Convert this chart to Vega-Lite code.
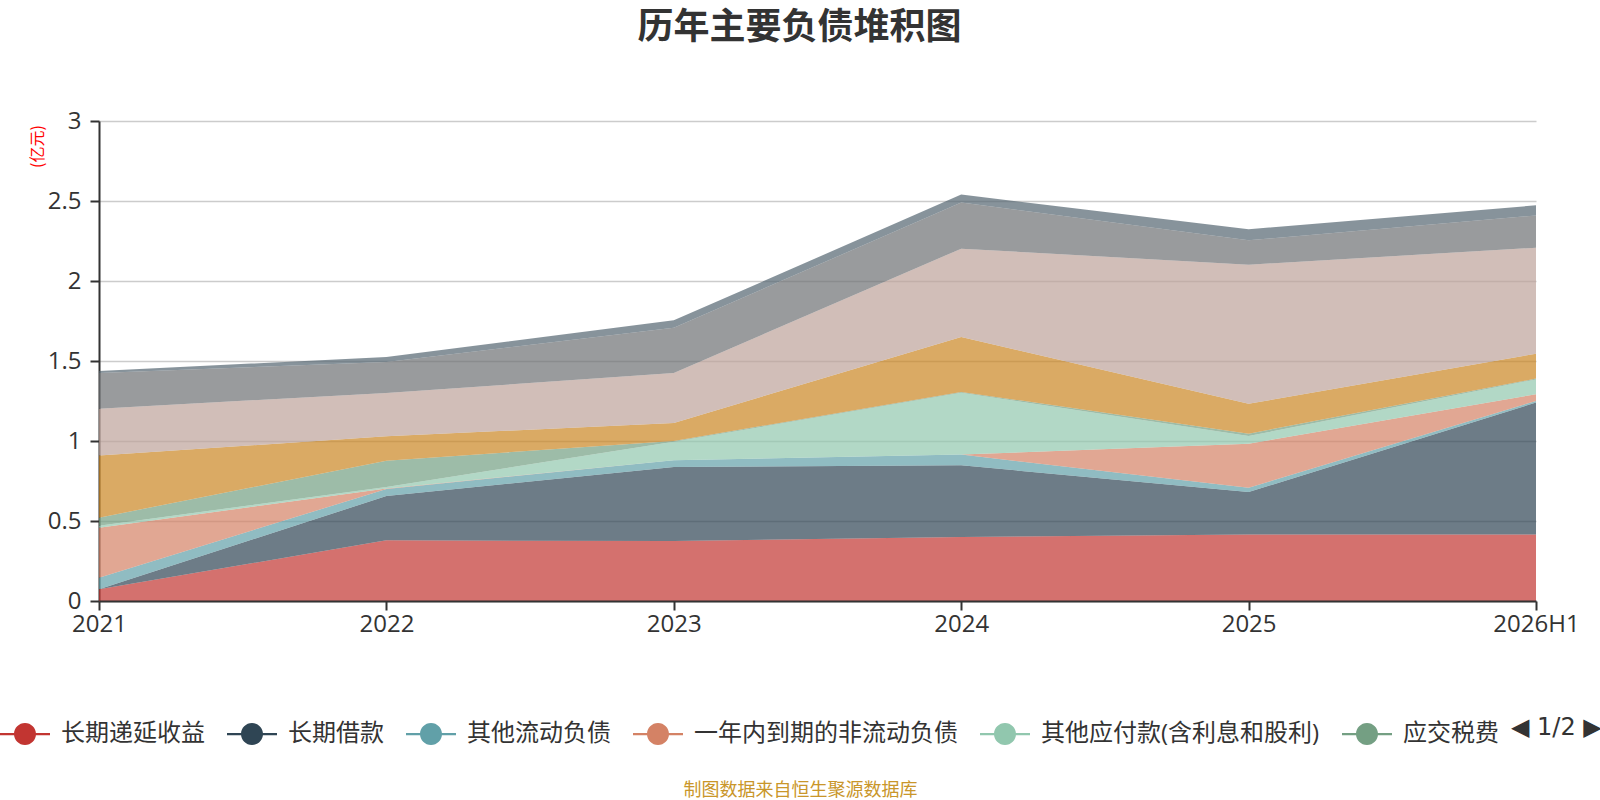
{
  "$schema": "https://vega.github.io/schema/vega-lite/v6.json",
  "width": 1437,
  "height": 480,
  "autosize": {"type": "none"},
  "padding": {"left": 99, "top": 121, "right": 64, "bottom": 199},
  "background": "white",
  "title": {
    "text": "历年主要负债堆积图",
    "font": "Noto Sans CJK SC",
    "fontSize": 36,
    "fontWeight": "bold",
    "color": "#333333",
    "anchor": "middle",
    "frame": "group",
    "dx": -18,
    "offset": 62
  },
  "data": {
    "values": [
      {"year": "2021", "item": "长期递延收益", "idx": 1, "value": 0.073},
      {"year": "2022", "item": "长期递延收益", "idx": 1, "value": 0.379},
      {"year": "2023", "item": "长期递延收益", "idx": 1, "value": 0.375},
      {"year": "2024", "item": "长期递延收益", "idx": 1, "value": 0.400},
      {"year": "2025", "item": "长期递延收益", "idx": 1, "value": 0.415},
      {"year": "2026H1", "item": "长期递延收益", "idx": 1, "value": 0.415},

      {"year": "2021", "item": "长期借款", "idx": 2, "value": 0},
      {"year": "2022", "item": "长期借款", "idx": 2, "value": 0.277},
      {"year": "2023", "item": "长期借款", "idx": 2, "value": 0.463},
      {"year": "2024", "item": "长期借款", "idx": 2, "value": 0.448},
      {"year": "2025", "item": "长期借款", "idx": 2, "value": 0.266},
      {"year": "2026H1", "item": "长期借款", "idx": 2, "value": 0.825},

      {"year": "2021", "item": "其他流动负债", "idx": 3, "value": 0.073},
      {"year": "2022", "item": "其他流动负债", "idx": 3, "value": 0.044},
      {"year": "2023", "item": "其他流动负债", "idx": 3, "value": 0.042},
      {"year": "2024", "item": "其他流动负债", "idx": 3, "value": 0.067},
      {"year": "2025", "item": "其他流动负债", "idx": 3, "value": 0.027},
      {"year": "2026H1", "item": "其他流动负债", "idx": 3, "value": 0.010},

      {"year": "2021", "item": "一年内到期的非流动负债", "idx": 4, "value": 0.312},
      {"year": "2022", "item": "一年内到期的非流动负债", "idx": 4, "value": 0.003},
      {"year": "2023", "item": "一年内到期的非流动负债", "idx": 4, "value": 0},
      {"year": "2024", "item": "一年内到期的非流动负债", "idx": 4, "value": 0},
      {"year": "2025", "item": "一年内到期的非流动负债", "idx": 4, "value": 0.275},
      {"year": "2026H1", "item": "一年内到期的非流动负债", "idx": 4, "value": 0.042},

      {"year": "2021", "item": "其他应付款(含利息和股利)", "idx": 5, "value": 0.013},
      {"year": "2022", "item": "其他应付款(含利息和股利)", "idx": 5, "value": 0.010},
      {"year": "2023", "item": "其他应付款(含利息和股利)", "idx": 5, "value": 0.115},
      {"year": "2024", "item": "其他应付款(含利息和股利)", "idx": 5, "value": 0.387},
      {"year": "2025", "item": "其他应付款(含利息和股利)", "idx": 5, "value": 0.048},
      {"year": "2026H1", "item": "其他应付款(含利息和股利)", "idx": 5, "value": 0.093},

      {"year": "2021", "item": "应交税费", "idx": 6, "value": 0.050},
      {"year": "2022", "item": "应交税费", "idx": 6, "value": 0.164},
      {"year": "2023", "item": "应交税费", "idx": 6, "value": 0.005},
      {"year": "2024", "item": "应交税费", "idx": 6, "value": 0.005},
      {"year": "2025", "item": "应交税费", "idx": 6, "value": 0.015},
      {"year": "2026H1", "item": "应交税费", "idx": 6, "value": 0.005},

      {"year": "2021", "item": "应付职工薪酬", "idx": 7, "value": 0.389},
      {"year": "2022", "item": "应付职工薪酬", "idx": 7, "value": 0.152},
      {"year": "2023", "item": "应付职工薪酬", "idx": 7, "value": 0.113},
      {"year": "2024", "item": "应付职工薪酬", "idx": 7, "value": 0.343},
      {"year": "2025", "item": "应付职工薪酬", "idx": 7, "value": 0.187},
      {"year": "2026H1", "item": "应付职工薪酬", "idx": 7, "value": 0.156},

      {"year": "2021", "item": "合同负债", "idx": 8, "value": 0.292},
      {"year": "2022", "item": "合同负债", "idx": 8, "value": 0.271},
      {"year": "2023", "item": "合同负债", "idx": 8, "value": 0.312},
      {"year": "2024", "item": "合同负债", "idx": 8, "value": 0.552},
      {"year": "2025", "item": "合同负债", "idx": 8, "value": 0.869},
      {"year": "2026H1", "item": "合同负债", "idx": 8, "value": 0.662},

      {"year": "2021", "item": "应付账款", "idx": 9, "value": 0.223},
      {"year": "2022", "item": "应付账款", "idx": 9, "value": 0.194},
      {"year": "2023", "item": "应付账款", "idx": 9, "value": 0.283},
      {"year": "2024", "item": "应付账款", "idx": 9, "value": 0.288},
      {"year": "2025", "item": "应付账款", "idx": 9, "value": 0.152},
      {"year": "2026H1", "item": "应付账款", "idx": 9, "value": 0.202},

      {"year": "2021", "item": "短期借款", "idx": 10, "value": 0.013},
      {"year": "2022", "item": "短期借款", "idx": 10, "value": 0.031},
      {"year": "2023", "item": "短期借款", "idx": 10, "value": 0.046},
      {"year": "2024", "item": "短期借款", "idx": 10, "value": 0.050},
      {"year": "2025", "item": "短期借款", "idx": 10, "value": 0.069},
      {"year": "2026H1", "item": "短期借款", "idx": 10, "value": 0.063}
    ]
  },
  "mark": {"type": "area", "opacity": 0.7},
  "encoding": {
    "x": {
      "field": "year",
      "type": "ordinal",
      "sort": ["2021", "2022", "2023", "2024", "2025", "2026H1"],
      "scale": {"type": "point", "padding": 0},
      "axis": {
        "title": "制图数据来自恒生聚源数据库",
        "titleFont": "Noto Sans CJK SC",
        "titleFontSize": 18,
        "titleFontWeight": "normal",
        "titleColor": "#c9962a",
        "titleX": 701,
        "titleY": 189,
        "titleAlign": "center",
        "titleBaseline": "middle",
        "labelAngle": 0,
        "labelFont": "Open Sans",
        "labelFontSize": 24,
        "labelColor": "#333333",
        "labelPadding": 2,
        "domainColor": "#333333",
        "domainWidth": 2,
        "tickColor": "#333333",
        "tickWidth": 2,
        "tickSize": 9,
        "grid": false,
        "zindex": 1
      }
    },
    "y": {
      "field": "value",
      "type": "quantitative",
      "stack": "zero",
      "scale": {"domain": [0, 3], "nice": false},
      "axis": {
        "values": [0, 0.5, 1, 1.5, 2, 2.5, 3],
        "format": ".1~f",
        "title": "(亿元)",
        "titleFont": "Noto Sans CJK SC",
        "titleFontSize": 16,
        "titleFontWeight": "normal",
        "titleColor": "#ff0000",
        "titleAngle": -90,
        "titleX": -62,
        "titleY": 25,
        "titleAlign": "center",
        "titleBaseline": "middle",
        "labelFont": "Open Sans",
        "labelFontSize": 24,
        "labelColor": "#333333",
        "labelPadding": 9,
        "domainColor": "#333333",
        "domainWidth": 2,
        "tickColor": "#333333",
        "tickWidth": 2,
        "tickSize": 9,
        "gridColor": "#cccccc",
        "gridWidth": 1.5
      }
    },
    "color": {
      "field": "item",
      "type": "nominal",
      "scale": {
        "domain": ["长期递延收益", "长期借款", "其他流动负债", "一年内到期的非流动负债", "其他应付款(含利息和股利)", "应交税费", "应付职工薪酬", "合同负债", "应付账款", "短期借款"],
        "range": ["#c23531", "#2f4554", "#61a0a8", "#d48265", "#91c7ae", "#749f83", "#ca8622", "#bda29a", "#6e7074", "#546570"]
      },
      "legend": {
        "orient": "none",
        "legendX": -99,
        "legendY": 588,
        "direction": "horizontal",
        "values": ["长期递延收益", "长期借款", "其他流动负债", "一年内到期的非流动负债", "其他应付款(含利息和股利)", "应交税费"],
        "symbolType": "M-1,-0.045H1V0.045H-1Z M-0.44,0A0.44,0.44 0 1,1 0.44,0A0.44,0.44 0 1,1 -0.44,0Z",
        "symbolSize": 2500,
        "symbolOpacity": 1,
        "symbolStrokeWidth": 0,
        "labelFont": "Open Sans, Noto Sans CJK SC",
        "labelFontSize": 24,
        "labelColor": "#333333",
        "labelOffset": 11,
        "labelLimit": 600,
        "columnPadding": 22,
        "title": "◀ 1/2 ▶",
        "titleOrient": "right",
        "titleFont": "DejaVu Sans",
        "titleFontSize": 24,
        "titleFontWeight": "normal",
        "titleColor": "#333333",
        "titlePadding": 12
      }
    },
    "order": {"field": "idx", "type": "quantitative", "sort": "ascending"}
  },
  "config": {"view": {"stroke": null}}
}
